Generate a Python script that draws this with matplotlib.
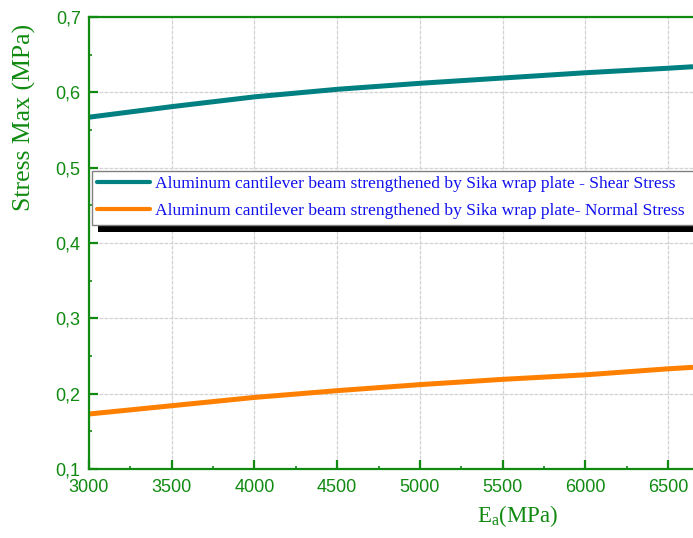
import numpy as np
import matplotlib
matplotlib.use("Agg")
import matplotlib.pyplot as plt
from matplotlib.patches import Rectangle
from matplotlib.ticker import MultipleLocator, AutoMinorLocator, FuncFormatter

plt.rcParams["font.family"] = ["Liberation Sans", "DejaVu Sans"]

# valeurs
ea = [3000, 3500, 4000, 4500, 5000, 5500, 6000, 6500, 6650]
shear = [0.567, 0.581, 0.594, 0.604, 0.612, 0.619, 0.626, 0.632, 0.634]
normal = [0.173, 0.184, 0.195, 0.204, 0.212, 0.219, 0.225, 0.233, 0.235]

lab_shear = "Aluminum cantilever beam strengthened by Sika wrap plate - Shear Stress"
lab_normal = "Aluminum cantilever beam strengthened by Sika wrap plate- Normal Stress"

green = "#108a10"

fig = plt.figure(figsize=(6.93, 5.38), dpi=100)
ax = fig.add_axes([89/693, 1-469/538, 1-89/693, (469-17)/538])

ax.plot(ea, shear, color="#008080", lw=3.6, label=lab_shear, solid_capstyle="butt")
ax.plot(ea, normal, color="#ff8000", lw=3.6, label=lab_normal, solid_capstyle="butt")

ax.set_xlim(3000, 6650)
ax.set_ylim(0.1, 0.7)
ax.xaxis.set_major_locator(MultipleLocator(500))
ax.yaxis.set_major_locator(MultipleLocator(0.1))
ax.xaxis.set_minor_locator(AutoMinorLocator(2))
ax.yaxis.set_minor_locator(AutoMinorLocator(2))
ax.yaxis.set_major_formatter(FuncFormatter(lambda v, p: ("%.1f" % v).replace(".", ",")))

ax.grid(True, which="major", color="#d2d2d2", linestyle=(0, (3, 1)), lw=0.9)
ax.set_axisbelow(True)

for s in ["left", "top", "bottom"]:
    ax.spines[s].set_color(green)
    ax.spines[s].set_linewidth(1.6)
ax.spines["right"].set_visible(False)

ax.tick_params(which="major", direction="in", length=6.5, width=1.6, color=green,
               labelcolor=green, labelsize=13)
ax.tick_params(axis="x", which="major", pad=7)
ax.tick_params(axis="y", which="major", pad=6)
ax.tick_params(which="minor", direction="in", length=2.5, width=1.2, color=green)

ax.set_xlabel("E$_\\mathregular{a}$(MPa)", fontsize=16.5, color=green, family="Liberation Serif")
ax.set_ylabel("Stress Max (MPa)", fontsize=18.5, color=green, family="Liberation Serif")
ax.xaxis.set_label_coords((518-89)/604, -(503-469)/452)
ax.yaxis.set_label_coords(-(89-36)/604, (469-117)/452)

leg = ax.legend(loc="upper left", bbox_to_anchor=(0.005, 0, 1.1, (469-171)/452), mode="expand",
                frameon=True, fancybox=False, shadow=False, framealpha=1,
                prop={"family": "Liberation Serif", "size": 12.6},
                handlelength=3.0, handletextpad=0.28, borderpad=0.3, labelspacing=0.6,
                borderaxespad=0)
leg.get_frame().set_edgecolor("#808080")
leg.get_frame().set_linewidth(1.0)
for t in leg.get_texts():
    t.set_color("#1010ee")
for h in leg.get_lines():
    h.set_linewidth(3.0)
    h.set_solid_capstyle("round")

# ombre noire décalée sous la légende
fig.canvas.draw()
bb = leg.get_window_extent()
ax.add_patch(Rectangle((bb.x0 + 6, bb.y0 - 7), bb.width, bb.height, transform=None,
                       facecolor="black", edgecolor="none", zorder=4.9, clip_on=False))

fig.savefig("out.png", dpi=100)
